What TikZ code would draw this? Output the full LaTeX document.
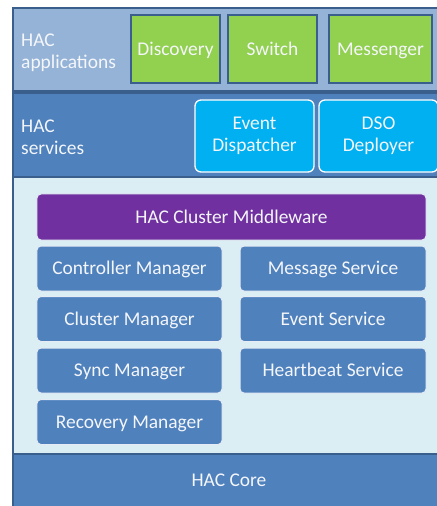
\documentclass[tikz,border=0pt]{standalone}
\usepackage{fontspec}
\setmainfont{Carlito}
\definecolor{bandlight}{HTML}{95B3D7}
\definecolor{bandblue}{HTML}{4F81BD}
\definecolor{edgeblue}{HTML}{3A5F8C}
\definecolor{paleback}{HTML}{DBEEF4}
\definecolor{appgreen}{HTML}{92D050}
\definecolor{svccyan}{HTML}{00B0F0}
\definecolor{midpurple}{HTML}{7030A0}
\definecolor{txtwhite}{HTML}{F4F6FA}
\tikzset{
  lbl/.style={text=txtwhite, font=\fontsize{19.5}{22}\selectfont},
  oneline/.style={text height=12.5bp, text depth=0pt},
  appbox/.style={lbl, oneline, draw=edgeblue, line width=1.2bp, fill=appgreen, minimum height=68bp, inner sep=0pt},
  svcbox/.style={lbl, draw=white, line width=1.3bp, fill=svccyan, rounded corners=6bp, minimum width=119bp, minimum height=72bp, align=center, inner sep=0pt},
  modbox/.style={lbl, oneline, draw=white!85!bandblue, line width=1bp, fill=bandblue, rounded corners=4bp, minimum height=45bp, inner sep=0pt},
  band/.style={draw=edgeblue, line width=1.2bp},
  bandlbl/.style={lbl, anchor=west, align=left, inner sep=0pt}
}
\begin{document}
\begin{tikzpicture}[x=1bp,y=-1bp]
\useasboundingbox (0,0) rectangle (437,506);
\begin{scope}
\clip (0,0) rectangle (437,506);
% bands
\draw[band, fill=bandlight] (13,8) rectangle (445,91);
\draw[band, fill=bandblue] (13,93) rectangle (445,177);
\draw[band, fill=paleback] (13,177) rectangle (445,454);
\draw[band, fill=bandblue] (13,454) rectangle (445,515);
% band labels
\node[bandlbl] (applbl) at (21,52.5) {HAC\\applications};
\node[bandlbl] (svclbl) at (21,137.5) {HAC\\services};
% applications
\node[appbox, minimum width=89bp] (disc) at (175.5,49) {Discovery};
\node[appbox, minimum width=89bp] (switch) at (272.5,49) {Switch};
\node[appbox, minimum width=103bp] (msgr) at (380.5,49) {Messenger};
% services
\node[svcbox] (evd) at (254.5,136) {Event\\Dispatcher};
\node[svcbox] (dso) at (378.5,136) {DSO\\Deployer};
% middleware
\node[modbox, fill=midpurple, minimum width=389bp, minimum height=46bp] (mw) at (231.5,217) {HAC Cluster Middleware};
\node[modbox, minimum width=185bp] (ctrl) at (129.5,268.5) {Controller Manager};
\node[modbox, minimum width=185bp] (clus) at (129.5,319) {Cluster Manager};
\node[modbox, minimum width=185bp] (sync) at (129.5,370.5) {Sync Manager};
\node[modbox, minimum width=185bp] (reco) at (129.5,422) {Recovery Manager};
\node[modbox, minimum width=186bp] (msgs) at (333,268.5) {Message Service};
\node[modbox, minimum width=186bp] (evs) at (333,319) {Event Service};
\node[modbox, minimum width=186bp] (hbs) at (333,370.5) {Heartbeat Service};
% core
\node[lbl, oneline] (core) at (229,480.5) {HAC Core};
\end{scope}
\end{tikzpicture}
\end{document}
